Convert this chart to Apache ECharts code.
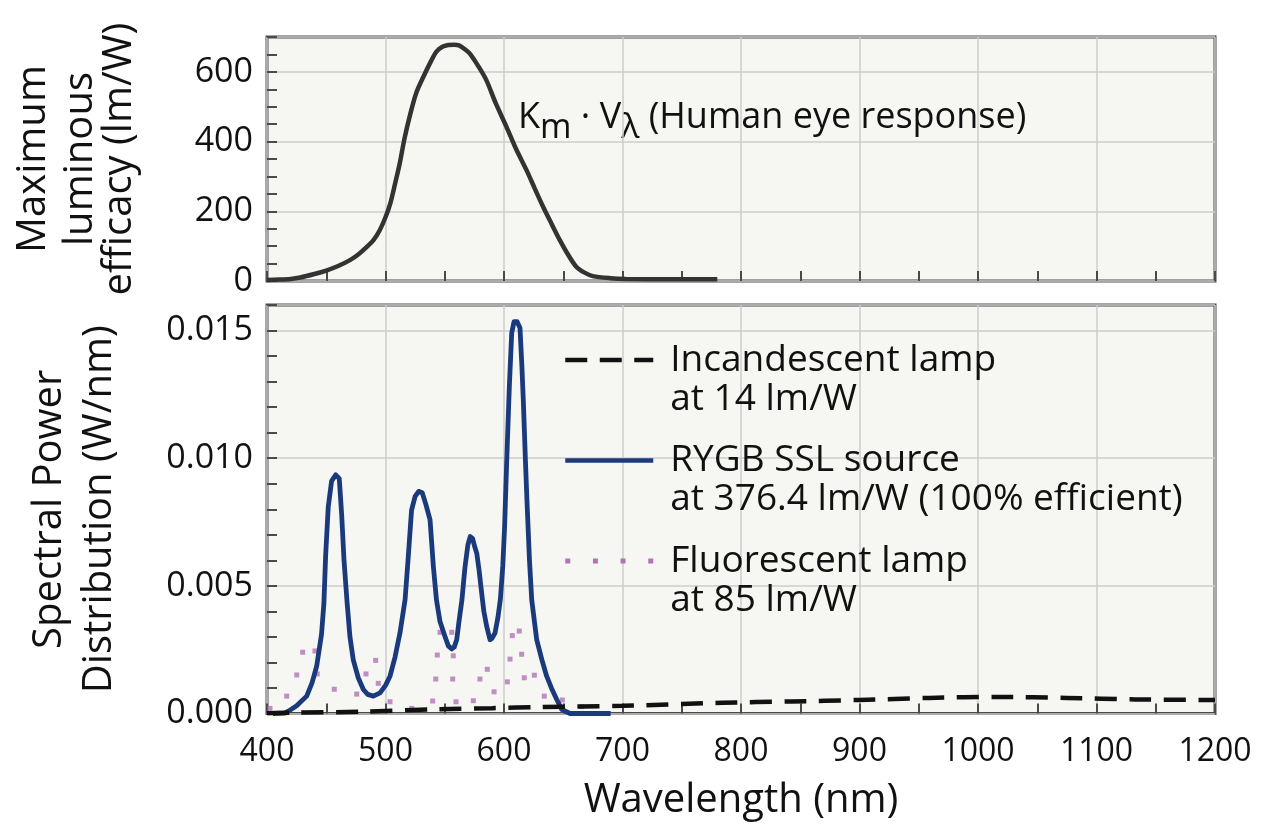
<!DOCTYPE html>
<html>
<head>
<meta charset="utf-8">
<script src="https://cdn.jsdelivr.net/npm/echarts@6/dist/echarts.min.js"></script>
<style>
html,body{margin:0;padding:0;background:#ffffff;}
#chart{width:1265px;height:831px;}
</style>
</head>
<body>
<div id="chart"></div>
<script>
// ---------- DATA ----------
// Human eye response Km*V(lambda), lm/W
const eyeWavelength = [400,410,420,428,440,450,460,470,477,484,490,495,500,504,508,512,516,521,526,532,538,543,548,553,558,562,567,571,578,585,593,602,610,619,626,633,640,647,654,661,668,675,690,703,740,780];
const eyeEfficacy   = [3,4,6,10,20,30,43,60,76,97,118,145,183,222,278,337,408,480,540,586,628,658,672,677,678,676,665,653,618,577,510,443,380,318,265,213,165,118,76,41,24,14,8,6,5,5];

// RYGB SSL source, W/nm
const ssWavelength = [405,415,418,425,433.5,438,441.9,446,448,449.5,451.7,454.5,458,461,463,465,467.5,470,472.8,477,481.3,485,489.7,495.4,500,503.8,508,512.2,516.5,519,522,525,528,531,534,537.6,540.4,543,546,550.2,553,555.9,558,560.1,562,564.5,567,569.5,571.5,573.5,575.5,577,579,581.2,583,585.4,588.2,590,592.4,595,597,599,600.5,602.3,604.5,606.5,608.5,611,613.5,615,616.3,618,619.5,621.5,623.4,627.6,632,636,640,644.5,648.7,655.7,690];
const ssPower = [0,0.00002,0.00009,0.0003,0.00068,0.0012,0.00185,0.0031,0.0043,0.0062,0.0081,0.0091,0.00935,0.0092,0.0078,0.006,0.0044,0.003,0.0021,0.0014,0.00094,0.00075,0.00068,0.00081,0.0011,0.00146,0.0022,0.00315,0.00445,0.006,0.00797,0.0085,0.0087,0.00865,0.0082,0.00758,0.00575,0.00445,0.0036,0.00302,0.00265,0.00253,0.0026,0.00289,0.0036,0.00445,0.0057,0.0066,0.00693,0.00685,0.0065,0.00628,0.0056,0.0047,0.004,0.00341,0.00289,0.00295,0.00315,0.0038,0.0045,0.0058,0.0073,0.0099,0.0128,0.0149,0.01535,0.01535,0.0151,0.0137,0.01227,0.01,0.0082,0.006,0.00445,0.00289,0.0021,0.00146,0.001,0.00055,0.00016,0,0];

// Fluorescent lamp, W/nm (each plotted dot)
const flWavelength = [402.5,416.6,425.1,430.1,440.5,442.4,456.8,475.7,483.5,491.7,493.9,503.8,522.1,539.8,542.4,543.7,546,555.9,557.2,556.7,559.5,574.1,579.7,585.9,591.6,602.8,605.1,607,612.9,614.9,617.1,625.6,634,649.2,665.6];
const flPower = [0.0002,0.00068,0.00151,0.0024,0.00245,0.00155,0.00095,0.00076,0.00155,0.00208,0.00118,0.00046,0.0002,0.00049,0.00135,0.00229,0.00318,0.00318,0.00226,0.00135,0.00046,0.0005,0.00135,0.00173,0.00085,0.00124,0.00213,0.00305,0.00323,0.00232,0.0014,0.0015,0.00068,0.00053,0.00027];

// Incandescent lamp, W/nm
const incWavelength = [400,420,480,545,590,630,700,784,842,900,959,1017,1075,1133,1200];
const incPower = [0.00001,0.00003,0.00007,0.00017,0.00021,0.00025,0.0003,0.00042,0.00047,0.00053,0.00061,0.00065,0.00061,0.00055,0.00053];

const seriesNames = ['Incandescent lamp\nat 14 lm/W', 'RYGB SSL source\nat 376.4 lm/W (100% efficient)', 'Fluorescent lamp\nat 85 lm/W'];

function pairs(xs, ys){ return xs.map((x,i)=>[x, ys[i]]); }

// ---------- STYLE ----------
const FONT = "'Open Sans','Noto Sans',sans-serif";
const FRAME = '#4a4a4a';
const GRIDC = '#cdcdcd';
const BG = '#f6f6f2';
const TXT = '#111111';

const chart = echarts.init(document.getElementById('chart'), null, {renderer:'canvas'});

const tickStyle = {color: FRAME, width: 2};

function xAxisBase(gridIndex, showLabel){
  return {
    type:'value', gridIndex, min:400, max:1200, interval:100,
    axisLine:{show:false},
    axisTick:{show:true, inside:true, length:10, lineStyle:tickStyle},
    minorTick:{show:true, splitNumber:2, length:10, lineStyle:tickStyle},
    splitLine:{show:true, lineStyle:{color:GRIDC, width:1.5}},
    axisLabel:{show:showLabel, fontSize:32, color:TXT, fontFamily:FONT, margin:22,
      formatter:v=>String(v)},
    name: showLabel ? 'Wavelength (nm)' : '',
    nameLocation:'middle', nameGap:67,
    nameTextStyle:{fontSize:40, color:TXT, fontFamily:FONT}
  };
}

const option = {
  backgroundColor:'#ffffff',
  animation:false,
  grid:[
    {left:267, top:37, width:948, height:244, show:true, backgroundColor:BG, borderColor:FRAME, borderWidth:3},
    {left:267, top:305, width:948, height:408.5, show:true, backgroundColor:BG, borderColor:FRAME, borderWidth:3}
  ],
  xAxis:[ xAxisBase(0,false), xAxisBase(1,true) ],
  yAxis:[
    { // top: labels & gridlines
      type:'value', gridIndex:0, position:'left', min:0, max:700, interval:200,
      axisLine:{show:false}, axisTick:{show:false},
      splitLine:{show:true, lineStyle:{color:GRIDC, width:1.5}},
      axisLabel:{fontSize:34, color:TXT, fontFamily:FONT, margin:14, showMaxLabel:false},
      name:'{a|Maximum}\n{b|luminous}\n{c|efficacy (lm/W)}',
      nameLocation:'middle', nameRotate:90, nameGap:128,
      nameTextStyle:{fontSize:40, color:TXT, fontFamily:FONT,
        rich:{a:{fontSize:40, lineHeight:54, fontFamily:FONT, color:TXT},
              b:{fontSize:40, lineHeight:40, fontFamily:FONT, color:TXT},
              c:{fontSize:40, lineHeight:38, fontFamily:FONT, color:TXT}}}
    },
    { // top: minor ticks every 50
      type:'value', gridIndex:0, position:'left', min:0, max:700, interval:50,
      axisLine:{show:false},
      axisTick:{show:true, inside:true, length:10, lineStyle:tickStyle},
      splitLine:{show:false}, axisLabel:{show:false}
    },
    { // bottom: labels & gridlines
      type:'value', gridIndex:1, position:'left', min:0, max:0.016, interval:0.005,
      axisLine:{show:false}, axisTick:{show:false},
      splitLine:{show:true, lineStyle:{color:GRIDC, width:1.5}},
      axisLabel:{fontSize:34, color:TXT, fontFamily:FONT, margin:14, showMaxLabel:false,
        formatter:v=>v.toFixed(3)},
      name:'Spectral Power\nDistribution (W/nm)',
      nameLocation:'middle', nameRotate:90, nameGap:142,
      nameTextStyle:{fontSize:40, lineHeight:50, color:TXT, fontFamily:FONT}
    },
    { // bottom: minor ticks every 0.001
      type:'value', gridIndex:1, position:'left', min:0, max:0.016, interval:0.001,
      axisLine:{show:false},
      axisTick:{show:true, inside:true, length:10, lineStyle:tickStyle},
      splitLine:{show:false}, axisLabel:{show:false}
    }
  ],
  legend:{
    left:563, top:316, orient:'vertical', padding:0,
    itemWidth:88, itemHeight:10, itemGap:-1,
    itemStyle:{opacity:0},
    lineStyle:{width:4.5},
    data:[
      {name:seriesNames[0]},
      {name:seriesNames[1]},
      {name:seriesNames[2], icon:'path://M0,0h5v5h-5zM27.7,0h5v5h-5zM55.3,0h5v5h-5zM83,0h5v5h-5z', itemStyle:{opacity:1}}
    ],
    formatter:function(name){
      const parts = name.split('\n');
      return '{e| }\n{t|' + parts[0] + '}\n{t|' + parts[1] + '}';
    },
    textStyle:{fontSize:37, color:TXT, fontFamily:FONT,
      rich:{
        e:{fontSize:10, lineHeight:39},
        t:{fontSize:37, lineHeight:39, color:TXT, fontFamily:FONT, padding:[0,0,0,12]}
      }}
  },
  graphic:[{
    type:'text', left:518, top:91,
    style:{
      text:'{n|K}{s|m}{n| · V}{s|λ}{n| (Human eye response)}',
      rich:{
        n:{fontSize:36, fontFamily:FONT, fill:TXT, lineHeight:42},
        s:{fontSize:34, fontFamily:FONT, fill:TXT, lineHeight:42, padding:[20,0,0,0]}
      }
    }
  }],
  series:[
    {
      name:'eye', type:'line', xAxisIndex:0, yAxisIndex:0,
      data:pairs(eyeWavelength, eyeEfficacy), showSymbol:false, symbol:'none', smooth:0.3,
      lineStyle:{color:'#333333', width:4.5}, itemStyle:{color:'#333333'}, z:3
    },
    {
      name:seriesNames[2], type:'scatter', xAxisIndex:1, yAxisIndex:2,
      data:pairs(flWavelength, flPower), symbol:'rect', symbolSize:5,
      itemStyle:{color:'#b274b6'}, z:2
    },
    {
      name:seriesNames[1], type:'line', xAxisIndex:1, yAxisIndex:2,
      data:pairs(ssWavelength, ssPower), showSymbol:false, symbol:'none', smooth:false,
      lineStyle:{color:'#1b3a7c', width:4.8, join:'round'}, itemStyle:{color:'#1b3a7c'}, z:3
    },
    {
      name:seriesNames[0], type:'line', xAxisIndex:1, yAxisIndex:2,
      data:pairs(incWavelength, incPower), showSymbol:false, symbol:'none', smooth:0.3,
      lineStyle:{color:'#111111', width:4.5, type:[22,12.5], cap:'butt'}, itemStyle:{color:'#111111'}, z:4
    }
  ]
};
chart.setOption(option);
</script>
</body>
</html>
